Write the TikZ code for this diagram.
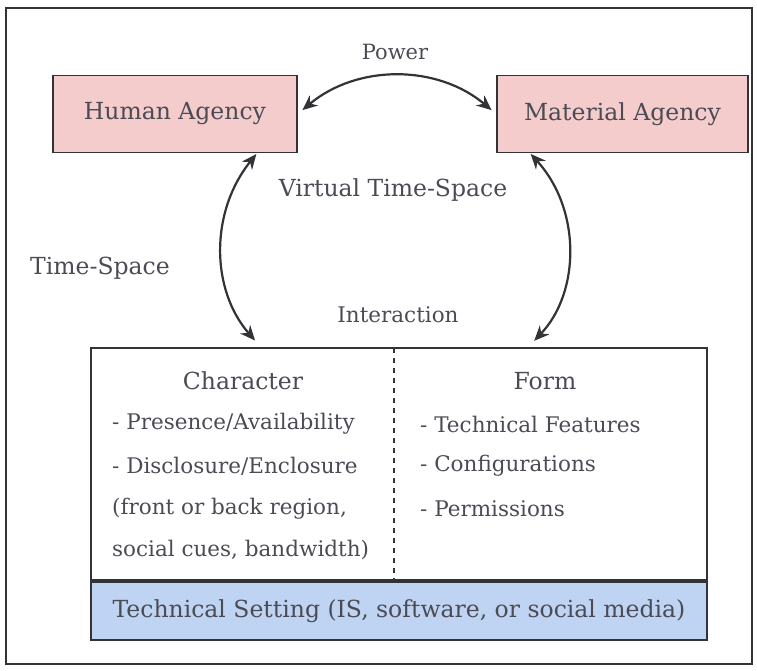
\documentclass[tikz,border=0pt]{standalone}
\usepackage{fontspec}
\setmainfont{DejaVu Serif}
\usepackage{tikz}
\usetikzlibrary{arrows.meta,positioning}

\definecolor{agencypink}{RGB}{244,204,204}
\definecolor{settingblue}{RGB}{190,212,242}
\definecolor{inkgray}{RGB}{50,50,55}
\definecolor{textgray}{RGB}{75,75,85}

\begin{document}
\begin{tikzpicture}[x=1pt,y=1pt,
    text=textgray,
    font=\fontsize{23.5}{28}\selectfont,
    agency/.style={draw=inkgray,line width=1.5pt,fill=agencypink,minimum height=77pt,inner sep=0pt},
    link/.style={draw=inkgray,line width=2.2pt,{Stealth[length=15pt,width=13pt]}-{Stealth[length=15pt,width=13pt]}},
    item/.style={anchor=west,inner sep=0pt,font=\fontsize{21.5}{26}\selectfont},
    heavy/.style={draw=inkgray,line width=2.8pt}]
      \useasboundingbox (0,0) rectangle (757,670);
      \draw[inkgray,line width=1.4pt] (6,6) rectangle (752,662);
      \node[agency,minimum width=244pt] (hum) at (175,556) {Human Agency};
      \node[agency,minimum width=251pt] (mat) at (622.5,556) {Material Agency};
      \node[font=\fontsize{21}{25}\selectfont] (pow) at (395,618) {Power};
      \node (vts) at (393,480) {Virtual Time-Space};
      \node (ts) at (100,402) {Time-Space};
      \node[font=\fontsize{21.5}{26}\selectfont] (inter) at (398,355) {Interaction};
      \node[draw=inkgray,line width=1.4pt,minimum width=616pt,minimum height=232pt,inner sep=0pt] (main) at (399,206) {};
      \node[draw=inkgray,line width=1.4pt,fill=settingblue,minimum width=616pt,minimum height=58pt,inner sep=0pt] (tech) at (399,59) {Technical Setting (IS, software, or social media)};
      % divider and border overlaps
      \draw[inkgray,line width=1.2pt,dash pattern=on 5pt off 5pt] (394,322) -- (394,90);
      \draw[heavy] (212,322) -- (370,322);
      \draw[heavy] (421,322) -- (579,322);
      \draw[heavy] (384,322) -- (405,322);
      \draw[heavy] (385,89) -- (405,89);
      % left column
      \node (char) at (243,289) {Character};
      \node[item] (c1) at (112,246) {- Presence/Availability};
      \node[item] (c2) at (112,204) {- Disclosure/Enclosure};
      \node[item] (c3) at (112,161) {(front or back region,};
      \node[item] (c4) at (112,120) {social cues, bandwidth)};
      % right column
      \node (form) at (545,289) {Form};
      \node[item] (f1) at (420,246) {- Technical Features};
      \node[item] (f2) at (420,204) {- Configurations};
      \node[item] (f3) at (420,161) {- Permissions};
      % arrows
      \draw[link,shorten <=6pt,shorten >=6pt] (hum.east) to[bend left=40] (mat.west);
      \draw[link,shorten <=1pt,shorten >=9pt] ([xshift=82pt]hum.south) to[bend right=40] ([xshift=-138pt]main.north);
      \draw[link,shorten <=1pt,shorten >=9pt] ([xshift=-92.5pt]mat.south) to[bend left=43] ([xshift=129pt]main.north);
\end{tikzpicture}
\end{document}
